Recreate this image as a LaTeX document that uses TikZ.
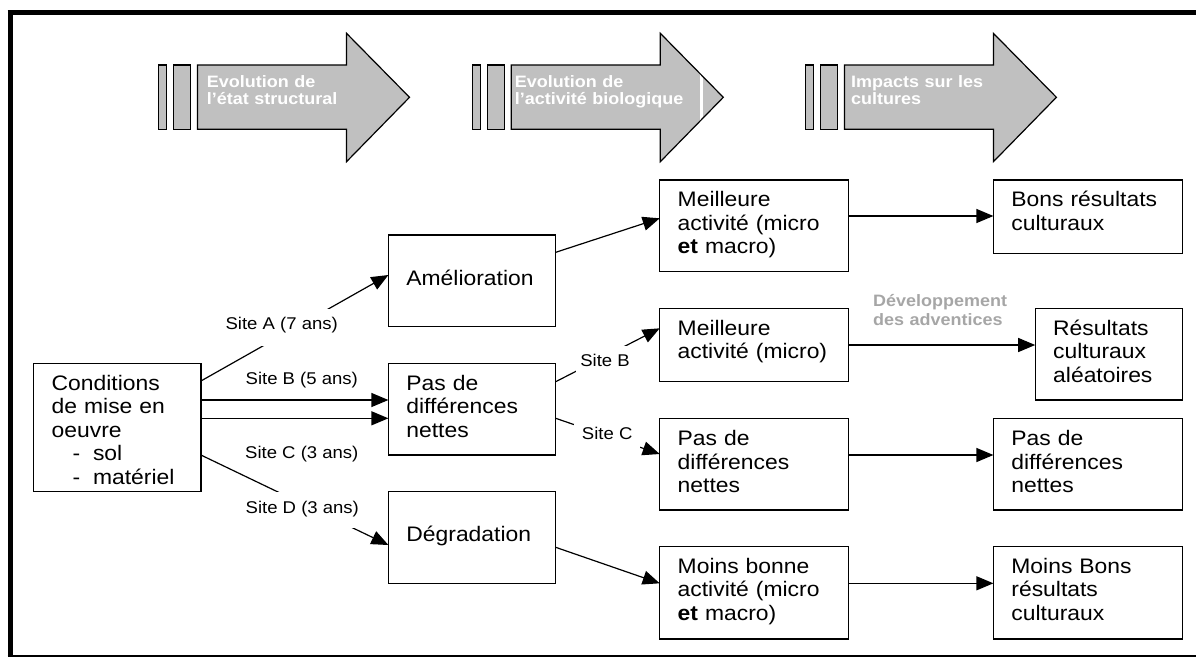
\documentclass[tikz,border=0pt]{standalone}
\usepackage{fontspec}
\setmainfont{Liberation Sans}[FakeStretch=1.09]
\usepackage{tikz}
\usetikzlibrary{arrows.meta,calc}
\usepackage{xcolor}
\definecolor{arrowgray}{RGB}{192,192,192}
\definecolor{advgray}{RGB}{166,166,166}

\begin{document}
\begin{tikzpicture}[x=1pt, y=-1pt,
  box/.style={draw, line width=1.4pt, anchor=north west, inner xsep=18pt, inner ysep=0pt,
    outer sep=0pt, align=left, font=\fontsize{21}{23.5}\selectfont},
  link/.style={line width=1.2pt, -{Triangle[length=17pt,width=14pt]}},
  site/.style={fill=white, inner xsep=3pt, inner ysep=0pt, anchor=base,
    font=\fontsize{17}{20}\selectfont},
  ttl/.style={anchor=base west, inner sep=0pt, text width=170pt, align=left,
    text=white, font=\bfseries\fontsize{16.5}{17}\selectfont},
  bigarrow/.style={fill=arrowgray, draw=black, line width=1.2pt}]
  \useasboundingbox (0,0) rectangle (1196,657);
  % Frame
  \draw[line width=4.5pt] (7.7,12.3) -- (1196,12.3);
  \draw[line width=5.7pt] (10.55,10) -- (10.55,657);
  \draw[line width=2pt] (7.7,656) -- (1196,656);
  % Big arrows
  \begin{scope}[shift={(197.5,0)}]
    \draw[bigarrow] (-39,65) rectangle (-31,129.3);
    \draw[bigarrow] (-24,65) rectangle (-7,129.3);
    \draw[bigarrow] (0,65) -- (149,65) -- (149,33.3) -- (212,97.3) -- (149,161.7)
      -- (149,129.3) -- (0,129.3) -- cycle;
    \node[ttl] (ttl1) at (9.2,87.3) {Evolution de\\l'état structural};
  \end{scope}
  \begin{scope}[shift={(511.3,0)}]
    \draw[bigarrow] (-39,65) rectangle (-31,129.3);
    \draw[bigarrow] (-24,65) rectangle (-7,129.3);
    \fill[arrowgray] (0,65) -- (149,65) -- (149,33.3) -- (212,97.3) -- (149,161.7)
      -- (149,129.3) -- (0,129.3) -- cycle;
    \fill[white] (188.7,71.7) rectangle (191.7,121.7);
    \draw[line width=1.2pt] (0,65) -- (149,65) -- (149,33.3) -- (212,97.3) -- (149,161.7)
      -- (149,129.3) -- (0,129.3) -- cycle;
    \node[ttl] (ttl2) at (3.4,87.3) {Evolution de\\l'activité biologique};
  \end{scope}
  \begin{scope}[shift={(844.4,0)}]
    \draw[bigarrow] (-39,65) rectangle (-31,129.3);
    \draw[bigarrow] (-24,65) rectangle (-7,129.3);
    \draw[bigarrow] (0,65) -- (149,65) -- (149,33.3) -- (212,97.3) -- (149,161.7)
      -- (149,129.3) -- (0,129.3) -- cycle;
    \node[ttl] (ttl3) at (6.5,87.3) {Impacts sur les\\cultures};
  \end{scope}
  % Boxes
  \node[box, text width=131.2pt, text height=26.7pt, text depth=101.7pt] (cond) at (33.7,363.3)
    {Conditions\\de mise en\\oeuvre\\\hspace*{21pt}-\hspace*{12.7pt}sol\\\hspace*{21pt}-\hspace*{12.7pt}matériel};
  \node[box, text width=131.3pt, text height=50.2pt, text depth=41.5pt] (amel) at (388.4,235) {Amélioration};
  \node[box, text width=131.3pt, text height=26.7pt, text depth=65pt] (pdn) at (388.4,363.3)
    {Pas de\\différences\\nettes};
  \node[box, text width=131.3pt, text height=50pt, text depth=41.6pt] (degr) at (388.4,491.7) {Dégradation};
  \node[box, text width=152.5pt, text height=26.5pt, text depth=65.2pt] (mm) at (659.7,180)
    {Meilleure\\activité (micro\\\textbf{et} macro)};
  \node[box, text width=152.5pt, text height=26.7pt, text depth=46.7pt] (mmi) at (659.7,308.3)
    {Meilleure\\activité (micro)};
  \node[box, text width=152.5pt, text height=27.5pt, text depth=64.2pt] (pd3) at (659.7,418.3)
    {Pas de\\différences\\nettes};
  \node[box, text width=152.5pt, text height=26.6pt, text depth=65.7pt] (mb) at (659.7,546.7)
    {Moins bonne\\activité (micro\\\textbf{et} macro)};
  \node[box, text width=152.9pt, text height=26.7pt, text depth=46.6pt] (bons) at (993.4,180)
    {Bons résultats\\culturaux};
  \node[box, text width=111.1pt, text height=26.7pt, text depth=65pt] (ral) at (1035.2,308.3)
    {Résultats\\culturaux\\aléatoires};
  \node[box, text width=152.9pt, text height=27.5pt, text depth=64.2pt] (pd4) at (993.4,418.3)
    {Pas de\\différences\\nettes};
  \node[box, text width=152.9pt, text height=26.6pt, text depth=65.7pt] (mbr) at (993.4,546.7)
    {Moins Bons\\résultats\\culturaux};
  % Links
  \draw[link] ($(cond.north east)+(0,17.7)$) -- ($(amel.north west)+(0,40)$);
  \draw[link] ($(cond.north east)+(0,36.7)$) -- ($(pdn.north west)+(0,36.7)$);
  \draw[link] ($(cond.north east)+(0,55)$) -- ($(pdn.north west)+(0,55)$);
  \draw[link] ($(cond.north east)+(0,91.7)$) -- ($(degr.north west)+(0,53.3)$);
  \draw[link] ($(amel.north east)+(0,17.3)$) -- ($(mm.north west)+(0,38.3)$);
  \draw[link] ($(pdn.north east)+(0,18.4)$) -- ($(mmi.north west)+(0,20)$);
  \draw[link] ($(pdn.north east)+(0,55)$) -- ($(pd3.north west)+(0,35.7)$);
  \draw[link] ($(degr.north east)+(0,55.6)$) -- ($(mb.north west)+(0,36.6)$);
  \draw[link] ($(mm.north east)+(0,36)$) -- ($(bons.north west)+(0,36)$);
  \draw[link] ($(mmi.north east)+(0,36.7)$) -- ($(ral.north west)+(0,36.7)$);
  \draw[link] ($(pd3.north east)+(0,36.7)$) -- ($(pd4.north west)+(0,36.7)$);
  \draw[link] ($(mb.north east)+(0,36.6)$) -- ($(mbr.north west)+(0,36.6)$);
  % Labels on the links
  \node[site, text height=20.3pt, text depth=16.2pt] (siteA) at (281.7,329.3) {Site A (7 ans)};
  \node[site] (siteB) at (301.8,384.3) {Site B (5 ans)};
  \node[site] (siteC) at (301.8,458.3) {Site C (3 ans)};
  \node[site, text height=21.8pt, text depth=14.7pt] (siteD) at (302.3,513.3) {Site D (3 ans)};
  \node[site, inner xsep=4pt, text height=20pt, text depth=6pt] (sB) at (605,366) {Site B};
  \node[site, minimum width=66pt, text height=15.3pt, text depth=8.7pt] (sC) at (607.2,439.3) {Site C};
  \node[anchor=base west, inner sep=0pt, text width=150pt, align=left, text=advgray,
    font=\bfseries\fontsize{16.5}{18.6}\selectfont] (adv) at (872.9,306.7)
    {Développement\\des adventices};
\end{tikzpicture}
\end{document}
